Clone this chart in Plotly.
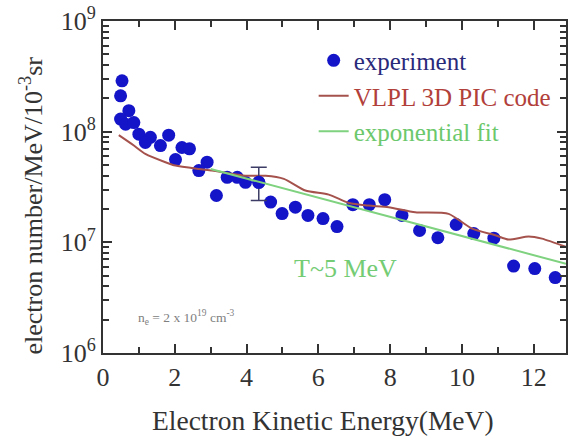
import plotly.graph_objects as go

# experiment data (Electron kinetic energy MeV, electron number per MeV per 1e-3 sr)
exp_energy = [0.53, 0.49, 0.72, 0.49, 0.63, 0.86, 1.00, 1.32, 1.18, 1.60, 1.83, 2.20, 2.41,
              2.02, 2.90, 2.67, 3.46, 3.74, 3.97, 3.16, 4.34, 4.67, 4.99, 5.36, 5.71, 6.13,
              6.52, 6.96, 7.42, 7.85, 8.33, 8.82, 9.33, 9.84, 10.33, 10.89, 11.44, 12.03, 12.60]
exp_counts = [2.88e8, 2.11e8, 1.55e8, 1.30e8, 1.17e8, 1.21e8, 9.5e7, 8.9e7, 8.0e7, 7.5e7, 9.3e7,
              7.2e7, 7.0e7, 5.6e7, 5.3e7, 4.45e7, 3.87e7, 3.87e7, 3.49e7, 2.65e7, 3.49e7, 2.31e7,
              1.82e7, 2.08e7, 1.75e7, 1.64e7, 1.39e7, 2.19e7, 2.19e7, 2.43e7, 1.75e7, 1.28e7,
              1.10e7, 1.45e7, 1.20e7, 1.09e7, 6.1e6, 5.8e6, 4.8e6]

# representative error bar
err_energy = [4.34]
err_center = [3.49e7]
err_plus = [1.28e7]
err_minus = [1.10e7]

# VLPL 3D PIC simulation
pic_energy = [0.44, 0.86, 1.18, 1.74, 2.02, 2.67, 3.04, 3.97, 4.53, 5.04, 5.64, 6.29, 6.85,
              7.40, 7.96, 8.70, 9.63, 10.28, 10.93, 11.30, 11.86, 12.23, 12.9]
pic_counts = [9.3e7, 7.5e7, 6.3e7, 5.3e7, 4.94e7, 4.6e7, 4.45e7, 4.0e7, 4.0e7, 3.75e7, 2.94e7,
              2.7e7, 2.27e7, 2.15e7, 2.08e7, 1.87e7, 1.81e7, 1.33e7, 1.16e7, 1.06e7, 1.13e7,
              1.08e7, 9.1e6]

# exponential fit (straight on log axis), endpoints
fit_energy = [3.0, 12.9]
fit_counts = [4.6e7, 6.4e6]

x_ticks = [0, 2, 4, 6, 8, 10, 12]
y_ticks = [1e6, 1e7, 1e8, 1e9]
y_tick_labels = ["10<sup>6</sup>", "10<sup>7</sup>", "10<sup>8</sup>", "10<sup>9</sup>"]

SERIF = "Liberation Serif"
BLUE = "#1414c8"
RED = "#a5524c"
GREEN = "#7fd27f"
AX = "#333333"
Y_RANGE = [6, 9.0005]

fig = go.Figure()

fig.add_trace(go.Scatter(
    x=exp_energy, y=exp_counts, mode="markers",
    marker=dict(color=BLUE, size=13, line=dict(width=0)),
    name='<span style="color:#2a2a7a">experiment</span>'))

fig.add_trace(go.Scatter(
    x=pic_energy, y=pic_counts, mode="lines",
    line=dict(color=RED, width=2, shape="spline", smoothing=0.6),
    name='<span style="color:#b2403a">VLPL 3D PIC code</span>'))

# fit drawn on the overlaying log axis (same range) which carries the minor ticks
fig.add_trace(go.Scatter(
    x=fit_energy, y=fit_counts, mode="lines", yaxis="y2",
    line=dict(color=GREEN, width=2),
    name='<span style="color:#6cc86c">exponential fit</span>'))

fig.add_trace(go.Scatter(
    x=err_energy, y=err_center, mode="markers",
    marker=dict(color=BLUE, size=13),
    error_y=dict(type="data", array=err_plus, arrayminus=err_minus,
                 color="#3c3c66", thickness=1.5, width=8),
    showlegend=False))

fig.add_annotation(x=6.76, y=6.766, xref="x", yref="y", text="T~5 MeV",
                   showarrow=False, font=dict(family=SERIF, size=26, color="#74cc74"))
fig.add_annotation(x=2.33, y=6.324, xref="x", yref="y",
                   text="n<sub>e</sub> = 2 x 10<sup>19</sup> cm<sup>-3</sup>",
                   showarrow=False, font=dict(family=SERIF, size=13.5, color="#808080"))

# axis titles as text placed like the reference
fig.add_annotation(x=-0.155, y=0.445, xref="paper", yref="paper",
                   xanchor="center", yanchor="middle", textangle=-90,
                   text="electron number/MeV/10<sup>-3</sup>sr",
                   showarrow=False, font=dict(family=SERIF, size=26, color="#333333"))
fig.add_annotation(x=0.476, y=-0.204, xref="paper", yref="paper",
                   xanchor="center", yanchor="middle",
                   text="Electron Kinetic Energy(MeV)",
                   showarrow=False, font=dict(family=SERIF, size=27.5, color="#333333"))

axis_common = dict(
    showline=True, linecolor=AX, linewidth=2, mirror="ticks",
    ticks="inside", tickcolor=AX, tickwidth=2, ticklen=9,
    showgrid=False, zeroline=False,
    tickfont=dict(family=SERIF, size=26, color="#333333"),
)

fig.update_xaxes(
    range=[0, 12.9], tickvals=x_ticks,
    minor=dict(ticks="inside", dtick=1, ticklen=6, tickcolor=AX, tickwidth=2, showgrid=False),
    **axis_common)

fig.update_layout(
    yaxis=dict(type="log", range=Y_RANGE, tickvals=y_ticks, ticktext=y_tick_labels,
               **axis_common),
    yaxis2=dict(type="log", range=Y_RANGE, overlaying="y", side="left", dtick="D1",
                showticklabels=False, ticks="inside", ticklen=6, tickwidth=1.5, tickcolor=AX,
                mirror="ticks", showline=False, showgrid=False, zeroline=False),
    width=571, height=443,
    margin=dict(l=103, r=3, t=20, b=90),
    paper_bgcolor="white", plot_bgcolor="white",
    showlegend=True,
    legend=dict(x=0.455, y=0.95, xanchor="left", yanchor="top",
                bgcolor="rgba(0,0,0,0)", borderwidth=0,
                font=dict(family=SERIF, size=25), itemwidth=30),
)

fig.write_html("out.html")
